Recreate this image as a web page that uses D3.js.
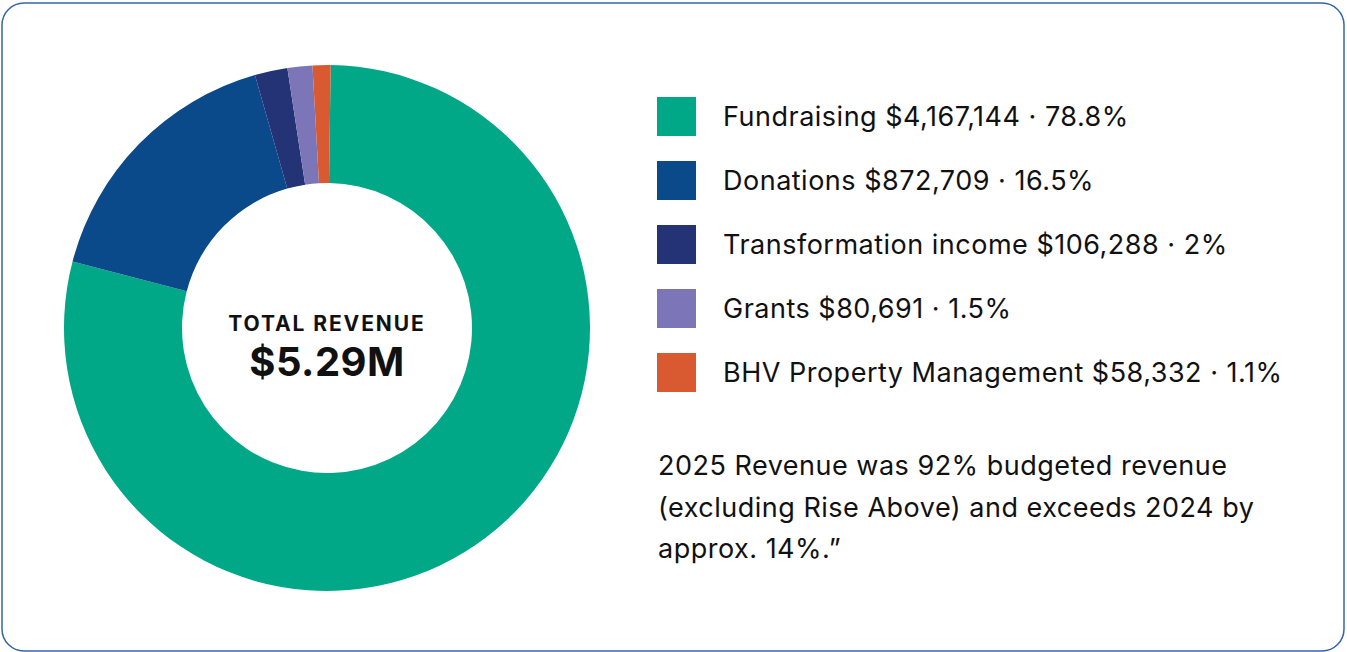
<!DOCTYPE html>
<html>
<head>
<meta charset="utf-8">
<script src="https://cdn.jsdelivr.net/npm/d3@7"></script>
<style>
  html, body { margin: 0; padding: 0; background: #fff; }
  svg { display: block; font-family: Inter, "Noto Sans", sans-serif; }
</style>
</head>
<body>
<svg id="chart" width="1347" height="652"></svg>
<script>
// revenue data
const categories = ['Fundraising', 'Donations', 'Transformation income', 'Grants', 'BHV Property Management'];
const amounts = [4167144, 872709, 106288, 80691, 58332];
const shares = ['78.8%', '16.5%', '2%', '1.5%', '1.1%'];
const colors = ['#00a887', '#0b4a8a', '#243375', '#7c75b7', '#d95931'];
const totalLabel = 'TOTAL REVENUE';
const totalValue = '$5.29M';
const noteLines = [
    '2025 Revenue was 92% budgeted revenue',
    '(excluding Rise Above) and exceeds 2024 by',
    'approx. 14%.\u201d'
];

const svg = d3.select('#chart');

// card border
svg.append('rect')
    .attr('x', 2).attr('y', 3)
    .attr('width', 1342).attr('height', 648)
    .attr('rx', 22).attr('ry', 22)
    .attr('fill', '#fff')
    .attr('stroke', '#3566a6')
    .attr('stroke-width', 1.5);

const rows = categories.map((c, i) => ({ name: c, value: amounts[i], share: shares[i], color: colors[i] }));

// donut
const cx = 327, cy = 328;
const pie = d3.pie().sort(null).value(d => d.value)
    .startAngle(0.014).endAngle(0.014 + Math.PI * 2);
const arc = d3.arc().innerRadius(145).outerRadius(263);

const g = svg.append('g').attr('transform', `translate(${cx},${cy})`);
g.selectAll('path')
    .data(pie(rows))
    .enter()
    .append('path')
    .attr('d', arc)
    .attr('fill', d => d.data.color);

g.append('text')
    .attr('y', 3)
    .attr('text-anchor', 'middle')
    .attr('font-size', 21)
    .attr('font-weight', 700)
    .attr('letter-spacing', 1.9)
    .attr('fill', '#111')
    .text(totalLabel);

g.append('text')
    .attr('y', 48)
    .attr('text-anchor', 'middle')
    .attr('font-size', 40)
    .attr('font-weight', 700)
    .attr('letter-spacing', 0.5)
    .attr('fill', '#111')
    .text(totalValue);

// legend
const fmt = d3.format(',');
const ly = d3.scaleBand().domain(categories).range([85, 405]).paddingInner(0);

const leg = svg.append('g').selectAll('g')
    .data(rows)
    .enter()
    .append('g')
    .attr('transform', d => `translate(657,${ly(d.name) + 12})`);

leg.append('rect')
    .attr('width', 39).attr('height', 39)
    .attr('fill', d => d.color);

leg.append('text')
    .attr('x', 66).attr('y', 29)
    .attr('font-size', 27)
    .attr('letter-spacing', 0.5)
    .attr('fill', '#111')
    .text(d => `${d.name} $${fmt(d.value)} \u00b7 ${d.share}`);

// note
svg.append('g').selectAll('text')
    .data(noteLines)
    .enter()
    .append('text')
    .attr('x', 658)
    .attr('y', (d, i) => 475 + i * 41.5)
    .attr('font-size', 27)
    .attr('letter-spacing', 0.5)
    .attr('fill', '#111')
    .text(d => d);
</script>
</body>
</html>
